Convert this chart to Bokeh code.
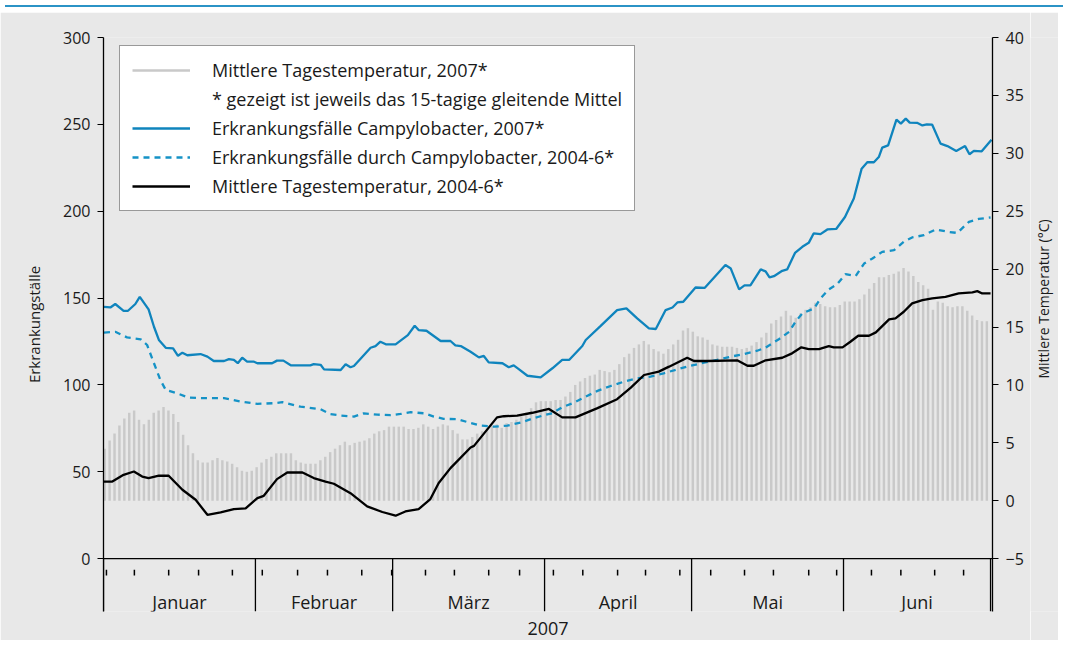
import math
from bokeh.plotting import figure
from bokeh.models import Range1d, LinearAxis, FixedTicker, Span, Legend, LegendItem, Div
from bokeh.layouts import column, row
from bokeh.core.properties import value
from bokeh.embed import file_html
from bokeh.resources import INLINE

FONT = "Open Sans"
TXT = "#1a1a1a"
BG = "#e8e8e8"
BLUE = "#0f84bd"
BLUE_D = "#1592c6"
BAR = "#c9c9c9"

# ---------------- data ----------------
months = ["Januar", "Februar", "März", "April", "Mai", "Juni"]
month_days = [31, 28, 31, 30, 31, 30]
minor_tick_days = [0.6, 6.3, 13.3, 19.4, 26.3, 32.4, 39.6, 45.7, 52.7, 58.8,
                   65.7, 71.6, 78.6, 84.9, 91.8, 97.8, 104.9, 110.6, 117.6,
                   123.9, 130.8, 136.7, 143.9, 149.6, 156.7, 162.7, 169.6, 175.5]
left_ticks = [0, 50, 100, 150, 200, 250, 300]
right_ticks = [-5, 0, 5, 10, 15, 20, 25, 30, 35, 40]
right_title = "Mittlere Temperatur (°C)"

# daily mean temperature 2007 (15-day moving average), one value per day from 1 Jan
temp_2007 = [4.5, 5.2, 5.8, 6.5, 7.1, 7.6, 7.8, 7.0, 6.6, 7.0, 7.6, 7.8, 8.1, 7.8, 7.5, 6.8,
             5.7, 4.8, 4.1, 3.5, 3.3, 3.3, 3.5, 3.7, 3.5, 3.4, 3.2, 2.9, 2.6, 2.5, 2.6, 2.9,
             3.3, 3.6, 3.8, 4.1, 4.1, 4.1, 4.1, 3.5, 3.3, 3.2, 3.2, 3.2, 3.5, 3.8,
             4.2, 4.5, 4.8, 5.1, 4.8, 5.0, 5.1, 5.2, 5.4, 5.8, 6.0, 6.1, 6.4, 6.4, 6.4, 6.4,
             6.2, 6.2, 6.3, 6.6, 6.4, 6.2, 6.4, 6.6, 6.5, 6.1, 5.8, 5.3, 5.3, 5.5, 5.8, 6.0,
             6.3, 6.5, 6.6, 6.3, 6.7, 6.8, 7.0, 7.3, 7.6, 8.0, 8.5, 8.6,
             8.6, 8.6, 8.7, 8.7, 9.0, 9.4, 10.0, 10.3, 10.6, 10.8, 10.9, 11.3, 11.2, 11.1, 11.3,
             11.8, 12.4, 12.7, 13.2, 13.5, 13.8, 13.5, 13.1, 12.9, 12.7, 13.1, 13.5, 13.9, 14.7,
             14.9, 14.6, 14.2, 14.1, 13.9, 13.5, 13.4, 13.3, 13.3, 13.3, 13.2, 13.1, 13.2, 13.4,
             13.7, 14.1,
             14.5, 15.3, 15.6, 15.9, 16.4, 16.0, 15.8, 16.2, 16.5, 16.7, 17.1, 17.0, 16.8, 16.7,
             16.7, 16.9, 17.2, 17.2, 17.2, 17.4, 17.8, 18.3, 18.8, 19.3, 19.3, 19.5, 19.6, 19.8,
             20.1, 19.8, 19.4, 18.9, 18.6, 18.3, 16.5, 17.2, 17.1, 16.8, 16.7, 16.8, 16.8, 16.4,
             16.0, 15.6, 15.5, 15.5]

camp_2007_day = [0.1, 1.4, 2.4, 4.1, 5.0, 6.5, 7.4, 9.2, 10.3, 11.3,
                 12.7, 14.2, 15.2, 16.1, 17.1, 19.8, 21.2, 22.5, 24.6, 25.6,
                 26.6, 27.4, 28.3, 29.3, 30.7, 31.4, 34.4, 35.4, 36.7, 38.2,
                 42.2, 42.9, 44.3, 45.0, 48.4, 49.4, 50.4, 51.1, 54.5, 55.5,
                 56.5, 57.6, 59.6, 62.1, 63.5, 64.3, 65.9, 68.8, 70.8, 71.8,
                 72.9, 74.9, 76.6, 77.6, 78.6, 81.4, 82.7, 83.7, 84.8, 86.5,
                 89.2, 91.6, 93.6, 95.0, 97.7, 98.4, 101.4, 104.8, 106.7, 108.9,
                 111.3, 112.7, 114.7, 116.1, 117.1, 118.3, 120.8, 122.7, 126.9, 128.0,
                 129.7, 130.8, 132.0, 134.1, 135.1, 135.9, 136.8, 138.5, 139.5, 141.1,
                 142.6, 143.9, 144.9, 146.3, 147.7, 149.5, 151.3, 153.1, 154.7, 155.9,
                 157.2, 158.2, 158.9, 160.1, 161.8, 162.7, 163.7, 164.5, 166.1, 167.1,
                 168.0, 169.1, 170.8, 172.2, 174.0, 175.8, 176.7, 177.6, 179.2, 181.2]
camp_2007 = [145, 144.6, 146.6, 142.7, 142.7, 146.6, 150.7, 143.5, 133.5, 125.9,
             121.4, 121.1, 116.8, 118.6, 117.1, 117.8, 116.3, 113.8, 113.8, 114.9,
             114.4, 112.5, 115.7, 113.4, 113.4, 112.5, 112.5, 114, 114, 111.3,
             111.3, 112, 111.6, 109, 108.6, 111.9, 110.2, 110.9, 121.4, 122.4,
             124.9, 123.4, 123.4, 128.7, 134.1, 131.6, 131.2, 125.3, 125.3, 122.8,
             122.4, 119.1, 115.9, 116.7, 113, 112.5, 110.2, 111.3, 109, 105.3,
             104.4, 109.6, 114.4, 114.4, 122.4, 125.9, 133.9, 143.1, 144.1, 138.3,
             132.6, 132.2, 143.1, 144.6, 147.5, 147.9, 156.1, 155.9, 169, 167,
             155, 157.3, 157.3, 166.5, 165.4, 161.9, 162.6, 165.7, 166.5, 176,
             179.5, 181.8, 187.2, 186.8, 189.5, 189.8, 196.7, 207.3, 224.5, 228.3,
             228.2, 231.2, 236.6, 237.9, 252.7, 250.4, 253.3, 251, 250.8, 249.4,
             250, 249.8, 238.9, 237.5, 234.7, 237.5, 232.8, 234.7, 234.5, 241.2]

camp_0406_day = [0.1, 2.4, 4.8, 7.6, 8.9, 10.3, 11.6, 12.7, 15.0, 17.4,
                 19.8, 24.6, 28.0, 31.4, 34.8, 36.5, 40.2, 44.3, 46.3, 48.4,
                 51.1, 53.1, 55.9, 58.6, 60.6, 62.7, 65.4, 67.4, 69.4, 72.2,
                 74.2, 76.9, 79.7, 82.4, 85.1, 87.8, 90.2, 91.6, 93.6, 96.0,
                 98.4, 100.8, 103.5, 106.2, 108.9, 111.6, 114.3, 117.1, 119.8, 122.5,
                 125.2, 128.0, 130.7, 133.4, 135.1, 137.8, 139.9, 141.2, 142.6, 145.0,
                 146.3, 148.0, 149.7, 151.4, 153.5, 155.2, 156.9, 158.9, 161.3, 163.3,
                 165.0, 167.4, 169.8, 172.2, 174.2, 176.6, 178.6, 181.0]
camp_0406 = [130.1, 130.6, 127.4, 126.3, 123, 112.5, 102.9, 97.1, 95.2, 92.7,
             92.4, 92.4, 90.4, 89.1, 89.5, 90.1, 87.5, 86, 83.2, 82.4,
             81.8, 83.7, 82.9, 82.6, 83.3, 84.3, 83.7, 81.8, 80.5, 80.3,
             78.7, 76.6, 76, 76.6, 78.3, 80.9, 82.8, 83.7, 87.2, 89.8,
             93.3, 96.6, 99.4, 101.9, 103.8, 104.8, 106.7, 109, 111.1, 112.8,
             114.4, 116.3, 117.8, 119.7, 121.5, 126.3, 130.6, 136.4, 141.2, 144.1,
             149.8, 155, 158, 163.8, 162.8, 169.9, 172.8, 176.6, 177.6, 182.4,
             184.9, 186.2, 189.5, 188.2, 187.5, 193.9, 195.6, 196.4]

temp_0406_day = [0.1, 1.8, 4.1, 6.2, 7.9, 9.2, 11.3, 13.3, 16.1, 18.8,
                 21.2, 23.9, 26.6, 29.0, 31.4, 32.7, 35.4, 37.5, 40.6, 42.9,
                 45.3, 47.0, 50.4, 53.8, 56.9, 59.6, 61.6, 64.3, 66.7, 68.4,
                 70.8, 74.9, 75.6, 80.3, 81.7, 84.4, 87.5, 90.9, 93.6, 96.3,
                 100.8, 104.8, 107.6, 110.3, 113.3, 115.4, 119.1, 120.5, 123.2, 129.3,
                 131.4, 132.7, 135.1, 138.5, 140.5, 142.4, 143.9, 146.0, 148.0, 149.0,
                 150.8, 152.4, 154.0, 156.2, 157.6, 160.3, 161.6, 163.3, 165.0, 167.1,
                 169.1, 171.8, 174.5, 177.3, 178.3, 179.3, 181.0]
temp_0406 = [1.66, 1.66, 2.24, 2.53, 2.09, 1.96, 2.18, 2.16, 0.95, 0.09,
             -1.21, -1.0, -0.72, -0.66, 0.23, 0.43, 1.87, 2.44, 2.44, 1.96,
             1.66, 1.47, 0.66, -0.49, -0.97, -1.29, -0.92, -0.72, 0.15, 1.53,
             2.82, 4.6, 4.74, 7.2, 7.3, 7.35, 7.6, 7.93, 7.2, 7.2,
             8.0, 8.77, 9.77, 10.86, 11.15, 11.58, 12.35, 12.07, 12.07, 12.13,
             11.66, 11.66, 12.13, 12.35, 12.73, 13.25, 13.1, 13.1, 13.36, 13.25,
             13.25, 13.73, 14.25, 14.25, 14.54, 15.66, 15.75, 16.32, 17.04, 17.33,
             17.47, 17.61, 17.9, 17.99, 18.1, 17.9, 17.9]

# ---------------- scales ----------------
H = 628
Y_BOTTOM, Y_TOP = -30.4, 300.0
T_TOP = 40.0
T_BOTTOM = -5.0 + Y_BOTTOM * 45.0 / 300.0

p = figure(width=1030, height=H, x_range=Range1d(0, 181.4), y_range=Range1d(Y_BOTTOM, Y_TOP),
           output_backend="svg", toolbar_location=None,
           min_border_left=103, min_border_right=38, min_border_top=25, min_border_bottom=29,
           background_fill_color=BG, border_fill_color=BG, outline_line_color=None)
p.extra_y_ranges = {"temp": Range1d(T_BOTTOM, T_TOP)}
p.grid.visible = False

# bottom axis: only the year label
xa = p.xaxis[0]
xa.ticker = FixedTicker(ticks=[])
xa.axis_line_color = None
xa.major_tick_line_color = None
xa.minor_tick_line_color = None
xa.major_tick_out = 0
xa.major_label_standoff = 0
xa.axis_label = "2007"
xa.axis_label_standoff = 10
xa.axis_label_text_font = FONT
xa.axis_label_text_font_size = "18px"
xa.axis_label_text_font_style = "normal"
xa.axis_label_text_color = TXT

ya = p.yaxis[0]
ya.ticker = FixedTicker(ticks=left_ticks)
ya.axis_label = "Erkrankungställe"
right = LinearAxis(y_range_name="temp", ticker=FixedTicker(ticks=right_ticks))
p.add_layout(right, "right")
for ax in (ya, right):
    ax.axis_line_color = "black"
    ax.axis_line_width = 1.3
    ax.major_tick_line_color = "black"
    ax.major_tick_line_width = 1.2
    ax.major_tick_out = 6
    ax.major_tick_in = 0
    ax.minor_tick_line_color = None
    ax.major_label_standoff = 7
    ax.major_label_text_font = FONT
    ax.major_label_text_font_size = "16px"
    ax.major_label_text_color = TXT
    ax.axis_label_text_font = FONT
    ax.axis_label_text_font_style = "normal"
    ax.axis_label_text_color = TXT
ya.axis_label_text_font_size = "15px"
ya.axis_label_standoff = 16

# temperature bars 2007
bar_x = [d + 0.25 for d in range(len(temp_2007))]
p.vbar(x=bar_x, bottom=0, top=temp_2007, width=0.5, y_range_name="temp",
       fill_color=BAR, line_color=None)

# lines
r_c07 = p.line(camp_2007_day, camp_2007, line_color=BLUE, line_width=2.3)
r_c46 = p.line(camp_0406_day, camp_0406, line_color=BLUE_D, line_width=2.3, line_dash="6 5")
r_t46 = p.line(temp_0406_day, temp_0406, line_color="black", line_width=2.3, y_range_name="temp")

# custom month axis
bounds = [0]
for n in month_days:
    bounds.append(bounds[-1] + n)
centers = [(bounds[i] + bounds[i + 1]) / 2 for i in range(len(months))]
p.add_layout(Span(location=0, dimension="width", line_color="black", line_width=1.3))
p.segment(x0=bounds, y0=[0] * len(bounds), x1=bounds, y1=[Y_BOTTOM] * len(bounds),
          line_color="black", line_width=1.3)
p.segment(x0=minor_tick_days, y0=[-6.3] * len(minor_tick_days),
          x1=minor_tick_days, y1=[-9.7] * len(minor_tick_days),
          line_color="black", line_width=1.5)
p.text(x=centers, y=[-25.0] * len(centers), text=months, text_align="center",
       text_baseline="middle", text_font=value(FONT), text_font_size="18px", text_color=TXT)

# legend (renderers without visible data for legend-only entries)
nan = float("nan")
r_t07 = p.line([0, 1], [nan, nan], line_color=BAR, line_width=2.3)
r_note = p.line([0, 1], [nan, nan], line_color=BAR, line_alpha=0)
legend = Legend(items=[
    LegendItem(label="Mittlere Tagestemperatur, 2007*", renderers=[r_t07]),
    LegendItem(label="* gezeigt ist jeweils das 15-tagige gleitende Mittel", renderers=[r_note]),
    LegendItem(label="Erkrankungsfälle Campylobacter, 2007*", renderers=[r_c07]),
    LegendItem(label="Erkrankungsfälle durch Campylobacter, 2004-6*", renderers=[r_c46]),
    LegendItem(label="Mittlere Tagestemperatur, 2004-6*", renderers=[r_t46]),
], location=(16, 400))
legend.border_line_color = "#333333"
legend.border_line_width = 1.5
legend.background_fill_color = "white"
legend.background_fill_alpha = 1.0
legend.label_text_font = FONT
legend.label_text_font_size = "18px"
legend.label_text_color = TXT
legend.glyph_width = 58
legend.glyph_height = 24
legend.label_height = 24
legend.spacing = 5
legend.padding = 12
legend.margin = 0
legend.label_standoff = 22
p.add_layout(legend, "center")

# narrow strip on the right carrying the right axis title (reads bottom-to-top)
side = figure(width=28, height=H, x_range=Range1d(0, 28), y_range=Range1d(0, H),
              x_axis_type=None, y_axis_type=None, output_backend="svg", toolbar_location=None,
              min_border=0, min_border_left=0, min_border_right=0, min_border_top=0,
              min_border_bottom=0, background_fill_color=BG, border_fill_color=BG,
              outline_line_color=None)
side.text(x=[13], y=[342], text=[right_title], angle=math.pi / 2, text_align="center",
          text_baseline="middle", text_font=value(FONT), text_font_size="14px", text_color=TXT)

top_line = Div(text="", width=1058, height=2, styles={"background-color": "#2b93c6"})
layout = column(top_line, row(p, side, spacing=0), spacing=0)

open("out.html", "w").write(file_html(layout, INLINE))
